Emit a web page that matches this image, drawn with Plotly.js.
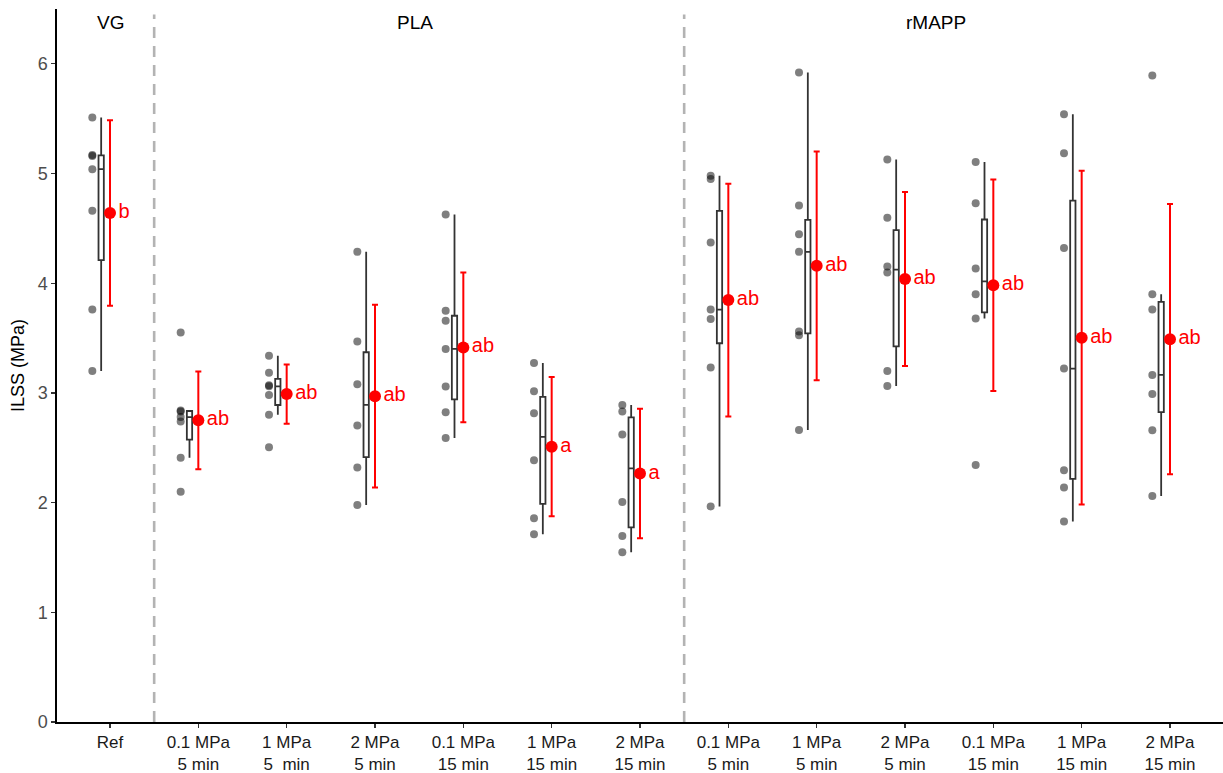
<!DOCTYPE html>
<html>
<head>
<meta charset="utf-8">
<script src="https://cdn.plot.ly/plotly-3.0.1.min.js"></script>
<style>html,body{margin:0;padding:0;background:#fff;}#chart{width:1223px;height:773px;}</style>
</head>
<body>
<div id="chart"></div>
<script>
// ---- data ----
const tickLabels = ["Ref", "0.1 MPa<br>5 min", "1 MPa<br>5  min", "2 MPa<br>5 min", "0.1 MPa<br>15 min", "1 MPa<br>15 min", "2 MPa<br>15 min",
                    "0.1 MPa<br>5 min", "1 MPa<br>5 min", "2 MPa<br>5 min", "0.1 MPa<br>15 min", "1 MPa<br>15 min", "2 MPa<br>15 min"];
const groupLabels = ["VG", "PLA", "rMAPP"];
const groupLabelPos = [0, 3.45, 9.35];

const vgRef        = [5.51, 5.17, 5.16, 5.04, 4.66, 3.76, 3.20];
const pla01_5      = [3.55, 2.84, 2.83, 2.78, 2.74, 2.41, 2.10];
const pla1_5       = [3.34, 3.185, 3.07, 3.06, 2.98, 2.80, 2.505];
const pla2_5       = [4.286, 3.468, 3.079, 2.702, 2.319, 1.979];
const pla01_15     = [4.626, 3.748, 3.659, 3.401, 3.058, 2.824, 2.590];
const pla1_15      = [3.273, 3.015, 2.814, 2.386, 1.857, 1.711];
const pla2_15      = [2.890, 2.830, 2.620, 2.006, 1.696, 1.547];
const rmapp01_5    = [4.98, 4.95, 4.371, 3.760, 3.675, 3.231, 1.965];
const rmapp1_5     = [5.921, 4.708, 4.447, 4.286, 3.559, 3.526, 2.663];
const rmapp2_5     = [5.127, 4.596, 4.152, 4.097, 3.200, 3.064];
const rmapp01_15   = [5.106, 4.730, 4.134, 3.900, 3.678, 2.343];
const rmapp1_15    = [5.541, 5.185, 4.322, 3.222, 2.295, 2.137, 1.827];
const rmapp2_15    = [5.893, 3.900, 3.760, 3.164, 2.991, 2.660, 2.061];

const means   = [4.64, 2.75, 2.99, 2.97, 3.415, 2.51, 2.265, 3.847, 4.159, 4.039, 3.982, 3.504, 3.49];
const sds     = [0.845, 0.445, 0.27, 0.833, 0.683, 0.635, 0.59, 1.061, 1.043, 0.793, 0.964, 1.521, 1.232];
const letters = ["b", "ab", "ab", "ab", "ab", "a", "a", "ab", "ab", "ab", "ab", "ab", "ab"];

const groups = [vgRef, pla01_5, pla1_5, pla2_5, pla01_15, pla1_15, pla2_15,
                rmapp01_5, rmapp1_5, rmapp2_5, rmapp01_15, rmapp1_15, rmapp2_15];

// ---- box statistics (R type-7 quantiles, 1.5 IQR whiskers) ----
function quant(sorted, p) {
  const h = (sorted.length - 1) * p;
  const lo = Math.floor(h), hi = Math.ceil(h);
  return sorted[lo] + (h - lo) * (sorted[hi] - sorted[lo]);
}
const boxX = [], q1 = [], med = [], q3 = [], lf = [], uf = [];
const ptX = [], ptY = [];
groups.forEach((g, i) => {
  const s = g.slice().sort((a, b) => a - b);
  const a = quant(s, 0.25), m = quant(s, 0.5), b = quant(s, 0.75);
  const iqr = b - a;
  boxX.push(i - 0.1); q1.push(a); med.push(m); q3.push(b);
  lf.push(Math.min(...s.filter(v => v >= a - 1.5 * iqr)));
  uf.push(Math.max(...s.filter(v => v <= b + 1.5 * iqr)));
  g.forEach(v => { ptX.push(i - 0.2); ptY.push(v); });
});
const idx = groups.map((g, i) => i);

const traces = [
  {
    type: 'scatter', mode: 'markers', x: ptX, y: ptY,
    marker: { color: 'rgba(0,0,0,0.5)', size: 8 },
    hoverinfo: 'y', showlegend: false
  },
  {
    type: 'box', x: boxX, q1: q1, median: med, q3: q3, lowerfence: lf, upperfence: uf,
    width: 0.06, whiskerwidth: 0, boxpoints: false,
    fillcolor: '#ffffff', line: { color: '#333333', width: 1.8 },
    showlegend: false
  },
  {
    type: 'scatter', mode: 'markers+text', x: idx, y: means,
    text: letters, textposition: 'middle right',
    textfont: { color: '#ff0000', size: 20, family: 'Liberation Sans, Arial, sans-serif' },
    marker: { color: '#ff0000', size: 12 },
    error_y: { type: 'data', array: sds, visible: true, color: '#ff0000', thickness: 2, width: 3 },
    showlegend: false
  }
];

const annotations = groupLabels.map((t, i) => ({
  x: groupLabelPos[i], y: 6.38, xref: 'x', yref: 'y', text: t, showarrow: false,
  xanchor: 'center', yanchor: 'middle',
  font: { size: 19, color: '#000000', family: 'Liberation Sans, Arial, sans-serif' }
}));

const shapes = [0.5, 6.5].map(xv => ({
  type: 'line', xref: 'x', yref: 'y', x0: xv, x1: xv, y0: 0, y1: 6.45,
  line: { color: '#b3b3b3', width: 2.6, dash: '11px,8px' }
}));

const layout = {
  width: 1223, height: 773,
  margin: { l: 57, r: 0, t: 9, b: 51 },
  paper_bgcolor: '#ffffff', plot_bgcolor: '#ffffff',
  font: { family: 'Liberation Sans, Arial, sans-serif' },
  showlegend: false,
  xaxis: {
    range: [-0.6, 12.6], tickmode: 'array', tickvals: idx, ticktext: tickLabels,
    showgrid: false, zeroline: false, showline: true, linecolor: '#000000', linewidth: 1.6,
    ticks: 'outside', ticklen: 4, tickcolor: '#333333', tickwidth: 1.2,
    tickfont: { size: 17, color: '#1a1a1a' }
  },
  yaxis: {
    range: [0, 6.5], tickvals: [0, 1, 2, 3, 4, 5, 6],
    showgrid: false, zeroline: false, showline: true, linecolor: '#000000', linewidth: 1.6,
    ticks: 'outside', ticklen: 4, tickcolor: '#333333', tickwidth: 1.2,
    tickfont: { size: 18, color: '#4d4d4d' },
    title: { text: 'ILSS (MPa)', font: { size: 18, color: '#000000' }, standoff: 8 }
  },
  annotations: annotations,
  shapes: shapes
};

Plotly.newPlot('chart', traces, layout, { displayModeBar: false, staticPlot: true });
</script>
</body>
</html>
